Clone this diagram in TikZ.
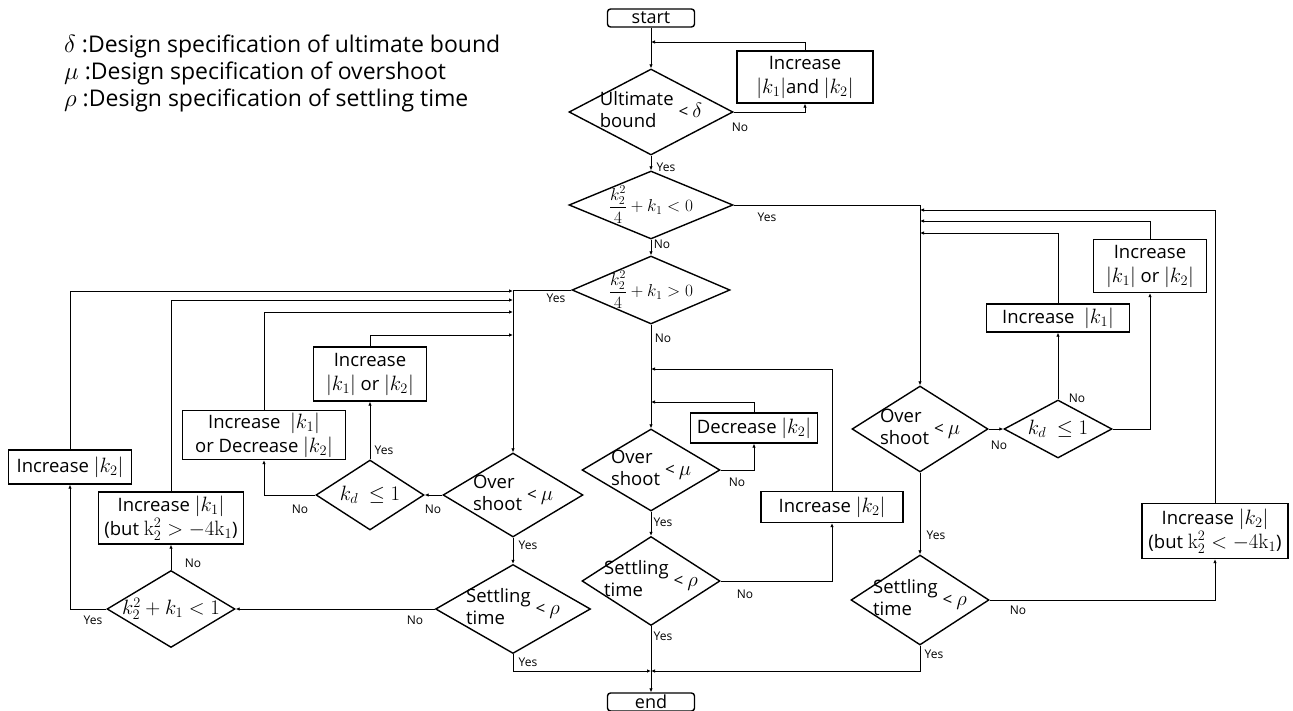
\documentclass[tikz,border=0pt]{standalone}
\usepackage{amsmath}
\usepackage[no-math]{fontspec}
\setmainfont{Open Sans}
\usetikzlibrary{shapes.geometric}
\usetikzlibrary{arrows.meta}
\DeclareMathSizes{18.5}{20.5}{15}{12}
\DeclareMathSizes{18}{19.5}{14}{11}
\DeclareMathSizes{17}{17.5}{13}{10}

\tikzset{
  proc/.style={draw,line width=1.4pt,align=center,inner sep=0pt,font=\fontsize{18.5}{24}\selectfont},
  term/.style={draw,line width=1.4pt,rounded corners=3pt,minimum width=87pt,minimum height=18pt,inner sep=0pt,font=\fontsize{18}{18}\selectfont},
  dec/.style={draw,diamond,line width=1.4pt,inner sep=0pt},
  dtxt/.style={font=\fontsize{18.5}{22}\selectfont,inner sep=0pt},
  ftxt/.style={font=\fontsize{18}{22}\selectfont,inner sep=0pt},
  frtxt/.style={font=\fontsize{17}{20}\selectfont,inner sep=0pt},
  lbl/.style={font=\fontsize{12}{13}\selectfont,inner sep=0pt},
  leg/.style={anchor=base west,inner sep=0pt,font=\fontsize{23}{27}\selectfont},
  conn/.style={line width=0.9pt,-{Latex[length=4pt,width=3.5pt]}}
}
\newcommand{\lt}[1]{\hspace{5pt}{\fontsize{17}{17}\selectfont<}\hspace{4pt}$#1$}

\begin{document}
\begin{tikzpicture}[x=1pt,y=-1pt]
\useasboundingbox (0,0) rectangle (1293,711);

\node[leg] (leg1) at (64,53) {$\delta$ :Design specification of ultimate bound};
\node[leg] (leg2) at (64,80) {$\mu$ :Design specification of overshoot};
\node[leg] (leg3) at (64,107) {$\rho$ :Design specification of settling time};

%main column
\node[term] (start) at (651,18) {start};
\node[dec,minimum width=164,minimum height=86,label={[dtxt]center:{\begin{tabular}{@{}l@{}}Ultimate\\bound\end{tabular}\lt{\delta}}}] (d1) at (651,112) {};
\node[proc,minimum width=136,minimum height=52] (inc12) at (805,77) {Increase\\$|k_1|$and $|k_2|$};
\node[dec,minimum width=164,minimum height=68,label={[frtxt]center:{$\dfrac{k_2^2}{4}+k_1<0$}}] (d2) at (651,205) {};
\node[dec,minimum width=158,minimum height=68,label={[frtxt]center:{$\dfrac{k_2^2}{4}+k_1>0$}}] (d3) at (651,290) {};
\node[dec,minimum width=138,minimum height=82,label={[dtxt]center:{\begin{tabular}{@{}l@{}}Over\\shoot\end{tabular}\lt{\mu}}}] (osM) at (651,470) {};
\node[proc,minimum width=127,minimum height=30] (decM) at (754,428) {Decrease $|k_2|$};
\node[dec,minimum width=138,minimum height=89,label={[dtxt]center:{\begin{tabular}{@{}l@{}}Settling\\time\end{tabular}\lt{\rho}}}] (stM) at (651,581) {};
\node[proc,minimum width=142,minimum height=31] (incM) at (832,507) {Increase $|k_2|$};
\node[term] (end) at (651,702) {end};

%left branch
\node[dec,minimum width=140,minimum height=84,label={[dtxt]center:{\begin{tabular}{@{}l@{}}Over\\shoot\end{tabular}\lt{\mu}}}] (osL) at (513,495) {};
\node[dec,minimum width=108,minimum height=70,label={[dtxt]center:{$k_d\ \le 1$}}] (kdL) at (370,495) {};
\node[proc,minimum width=113,minimum height=54] (incLa) at (370,374) {Increase\\$|k_1|$ or $|k_2|$};
\node[proc,minimum width=163,minimum height=49] (incLb) at (264,435) {Increase\ \ $|k_1|$\\or Decrease $|k_2|$};
\node[dec,minimum width=155,minimum height=89,label={[dtxt]center:{\begin{tabular}{@{}l@{}}Settling\\time\end{tabular}\lt{\rho}}}] (stL) at (513,609) {};
\node[dec,minimum width=128,minimum height=77,label={[ftxt]center:{$k_2^2+k_1<1$}}] (kkL) at (171,609) {};
\node[proc,minimum width=123,minimum height=34] (incLc) at (70,467) {Increase $|k_2|$};
\node[proc,minimum width=145,minimum height=52] (incLd) at (171,518) {Increase $|k_1|$\\(but $\mathrm{k}_2^2>-4\mathrm{k}_1$)};

%right branch
\node[dec,minimum width=136,minimum height=86,label={[dtxt]center:{\begin{tabular}{@{}l@{}}Over\\shoot\end{tabular}\lt{\mu}}}] (osR) at (920,429) {};
\node[dec,minimum width=108,minimum height=58,label={[dtxt]center:{$k_d\ \le 1$}}] (kdR) at (1058,429) {};
\node[proc,minimum width=143,minimum height=28] (incRa) at (1058,318) {Increase\ \ $|k_1|$};
\node[proc,minimum width=113,minimum height=53] (incRb) at (1150,266) {Increase\\$|k_1|$ or $|k_2|$};
\node[dec,minimum width=138,minimum height=90,label={[dtxt]center:{\begin{tabular}{@{}l@{}}Settling\\time\end{tabular}\lt{\rho}}}] (stR) at (920,600) {};
\node[proc,minimum width=146,minimum height=55] (incRc) at (1215,531) {Increase $|k_2|$\\(but $\mathrm{k}_2^2<-4\mathrm{k}_1$)};

%merge points
\coordinate (m0) at (651,42);
\coordinate (mM1) at (651,402);
\coordinate (mM2) at (651,369);
\coordinate (mL1) at (513,291);
\coordinate (mL2) at (513,300);
\coordinate (mL3) at (513,312);
\coordinate (mL4) at (513,335);
\coordinate (mR1) at (920,210);
\coordinate (mR2) at (920,221);
\coordinate (mR3) at (920,233);
\coordinate (mE) at (651,671);

\draw[conn] (start) -- (d1);
\draw[conn] (d1.east) -| (inc12.south);
\draw[conn] (inc12.north) |- (m0);
\draw[conn] (d1.south) -- (d2.north);
\draw[conn] (d2.south) -- (d3.north);
\draw[conn] (d2.east) -| (osR.north);
\draw[conn] (d3.west) -| (osL.north);
\draw[conn] (d3.south) -- (osM.north);

\draw[conn] (osM.east) -| (decM.south);
\draw[conn] (decM.north) |- (mM1);
\draw[conn] (osM.south) -- (stM.north);
\draw[conn] (stM.east) -| (incM.south);
\draw[conn] (incM.north) |- (mM2);
\draw[conn] (stM.south) -- (end.north);

\draw[conn] (osL.west) -- (kdL.east);
\draw[conn] (kdL.west) -| (incLb.south);
\draw[conn] (kdL.north) -- (incLa.south);
\draw[conn] (incLa.north) |- (mL4);
\draw[conn] (incLb.north) |- (mL3);
\draw[conn] (osL.south) -- (stL.north);
\draw[conn] (stL.west) -- (kkL.east);
\draw[conn] (kkL.west) -| (incLc.south);
\draw[conn] (kkL.north) -- (incLd.south);
\draw[conn] (incLc.north) |- (mL1);
\draw[conn] (incLd.north) |- (mL2);
\draw[conn] (stL.south) |- (mE);

\draw[conn] (osR.east) -- (kdR.west);
\draw[conn] (kdR.north) -- (incRa.south);
\draw[conn] (kdR.east) -| (incRb.south);
\draw[conn] (incRa.north) |- (mR3);
\draw[conn] (incRb.north) |- (mR2);
\draw[conn] (incRc.north) |- (mR1);
\draw[conn] (osR.south) -- (stR.north);
\draw[conn] (stR.east) -| (incRc.south);
\draw[conn] (stR.south) |- (mE);

%yes / no
\node[lbl] (n1) at (740,127) {No};
\node[lbl] (y1) at (666,167) {Yes};
\node[lbl] (n2) at (662,244) {No};
\node[lbl] (y2) at (767,217) {Yes};
\node[lbl] (y3) at (556,298) {Yes};
\node[lbl] (n3) at (663,338) {No};
\node[lbl] (n4) at (737,482) {No};
\node[lbl] (y4) at (663,522) {Yes};
\node[lbl] (n5) at (745,594) {No};
\node[lbl] (y5) at (663,636) {Yes};
\node[lbl] (n6) at (433,509) {No};
\node[lbl] (n7) at (300,509) {No};
\node[lbl] (y6) at (384,450) {Yes};
\node[lbl] (y7) at (528,545) {Yes};
\node[lbl] (n8) at (415,620) {No};
\node[lbl] (y8) at (93,620) {Yes};
\node[lbl] (n9) at (193,563) {No};
\node[lbl] (y9) at (528,662) {Yes};
\node[lbl] (n10) at (999,445) {No};
\node[lbl] (n11) at (1077,398) {No};
\node[lbl] (y10) at (936,535) {Yes};
\node[lbl] (n12) at (1018,610) {No};
\node[lbl] (y11) at (934,654) {Yes};
\end{tikzpicture}
\end{document}
